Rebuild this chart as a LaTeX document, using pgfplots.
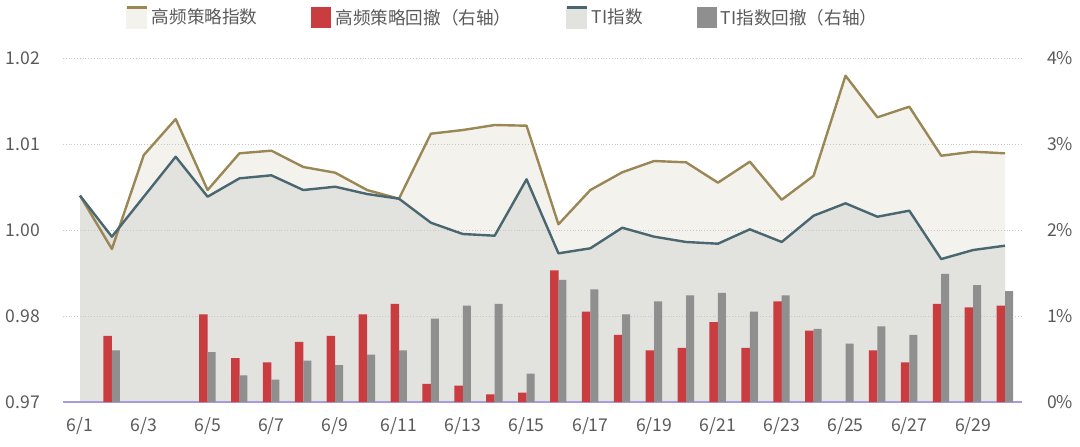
\documentclass[border=0pt]{standalone}
\usepackage{fontspec}
\setmainfont{Noto Sans CJK SC}
\usepackage{pgfplots}
\usepackage{pgfplotstable}
\pgfplotsset{compat=1.18}

\definecolor{goldline}{HTML}{9A8755}
\definecolor{goldfill}{HTML}{F3F2EC}
\definecolor{tiline}{HTML}{4A6670}
\definecolor{tifill}{HTML}{E2E2DE}
\definecolor{redbar}{HTML}{C93C40}
\definecolor{graybar}{HTML}{8F8F8F}
\definecolor{axisline}{HTML}{A79BE0}
\definecolor{ticklab}{HTML}{5A5A5A}
\definecolor{gridc}{HTML}{C8C8C8}

\pgfplotstableread{
x v
1 1.0000
2 0.99224
3 1.00590
4 1.01113
5 1.00081
6 1.00615
7 1.00653
8 1.00416
9 1.00333
10 1.00081
11 0.99955
12 1.00900
13 1.00953
14 1.01026
15 1.01016
16 0.99583
17 1.00081
18 1.00339
19 1.00503
20 1.00484
21 1.00188
22 1.00493
23 0.99940
24 1.00289
25 1.01743
26 1.01138
27 1.01292
28 1.00580
29 1.00638
30 1.00615
}\goldtab

\pgfplotstableread{
x v
1 1.0000
2 0.99403
3 0.99984
4 1.00565
5 0.99984
6 1.00251
7 1.00295
8 1.00081
9 1.00129
10 1.00023
11 0.99955
12 0.99606
13 0.99442
14 0.99417
15 1.00237
16 0.99161
17 0.99234
18 0.99533
19 0.99403
20 0.99326
21 0.99301
22 0.99510
23 0.99326
24 0.99708
25 0.99888
26 0.99693
27 0.99781
28 0.99078
29 0.99209
30 0.99272
}\titab

\pgfplotstableread{
x v
2 0.77
5 1.02
6 0.51
7 0.46
8 0.70
9 0.77
10 1.02
11 1.14
12 0.21
13 0.19
14 0.09
15 0.11
16 1.53
17 1.05
18 0.78
19 0.60
20 0.63
21 0.93
22 0.63
23 1.17
24 0.83
26 0.60
27 0.46
28 1.14
29 1.10
30 1.12
}\reddd

\pgfplotstableread{
x v
2 0.60
5 0.58
6 0.31
7 0.26
8 0.48
9 0.43
10 0.55
11 0.60
12 0.97
13 1.12
14 1.14
15 0.33
16 1.42
17 1.31
18 1.02
19 1.17
20 1.24
21 1.27
22 1.05
23 1.24
24 0.85
25 0.68
26 0.88
27 0.78
28 1.49
29 1.36
30 1.29
}\graydd

\pgfplotsset{
  base/.style={
    scale only axis,
    width=479.5pt, height=172pt,
    at={(31.5pt,22pt)}, anchor=south west,
    xmin=0.467, xmax=30.533,
    tick label style={font=\fontsize{8.8}{10}\selectfont, color=ticklab},
    major tick length=0pt,
    clip=true,
  },
}

\begin{document}
\begin{tikzpicture}
\useasboundingbox (0,0) rectangle (540pt,223pt);

% Axis 1: area fills, left ticks, x ticks
\begin{axis}[base,
  ymin=0.97, ymax=1.02,
  axis x line*=bottom, axis y line*=left,
  axis line style={draw=none},
  xtick={1,3,...,29},
  xticklabels={6/1,6/3,6/5,6/7,6/9,6/11,6/13,6/15,6/17,6/19,6/21,6/23,6/25,6/27,6/29},
  ytick={0.97,0.9825,0.995,1.0075,1.02},
  yticklabels={0.97,0.98,1.00,1.01,1.02},
  xticklabel style={yshift=-4pt},
  yticklabel style={xshift=-8pt},
]
\addplot[fill=goldfill, draw=none] table[x=x,y=v]{\goldtab} \closedcycle;
\addplot[fill=tifill, draw=none] table[x=x,y=v]{\titab} \closedcycle;
\end{axis}

% Axis 2: grid, bars, right ticks, legend
\begin{axis}[base,
  ymin=0, ymax=4,
  axis x line*=bottom, axis y line*=right,
  y axis line style={draw=none},
  x axis line style={draw=axisline, line width=0.8pt},
  xtick=\empty,
  ytick={0,1,2,3,4},
  yticklabels={0\%,1\%,2\%,3\%,4\%},
  yticklabel style={xshift=9pt},
  ymajorgrids,
  grid style={densely dotted, color=gridc, line width=0.5pt},
  legend style={at={(0.0647,1.1163)}, anchor=west, draw=none, fill=none,
    inner sep=0pt, font=\fontsize{8.8}{10}\selectfont, text=ticklab,
    legend columns=4, cells={anchor=west},
    /tikz/every even column/.append style={column sep=25pt}},
]
\addlegendimage{legend image code/.code={\fill[goldfill] (0pt,-5.25pt) rectangle (10pt,5.25pt); \draw[goldline, line width=1.2pt] (0pt,5.25pt)--(10pt,5.25pt);}}
\addlegendentry{高频策略指数}
\addplot[ybar, bar width=4.25pt, bar shift=-2.1pt, fill=redbar, draw=none,
  legend image code/.code={\fill[redbar] (0pt,-5.25pt) rectangle (10pt,5.25pt);}]
  table[x=x,y=v]{\reddd};
\addlegendentry{高频策略回撤（右轴）}
\addlegendimage{legend image code/.code={\fill[tifill] (0pt,-5.25pt) rectangle (10pt,5.25pt); \draw[tiline, line width=1.2pt] (0pt,5.25pt)--(10pt,5.25pt);}}
\addlegendentry{TI指数}
\addplot[ybar, bar width=4pt, bar shift=2pt, fill=graybar, draw=none,
  legend image code/.code={\fill[graybar] (0pt,-5.25pt) rectangle (10pt,5.25pt);}]
  table[x=x,y=v]{\graydd};
\addlegendentry{TI指数回撤（右轴）}
\end{axis}

% Axis 3: lines on top
\begin{axis}[base,
  ymin=0.97, ymax=1.02,
  axis lines=none, xtick=\empty, ytick=\empty,
]
\addplot[goldline, line width=1.2pt, line join=round] table[x=x,y=v]{\goldtab};
\addplot[tiline, line width=1.2pt, line join=round] table[x=x,y=v]{\titab};
\end{axis}
\end{tikzpicture}
\end{document}
